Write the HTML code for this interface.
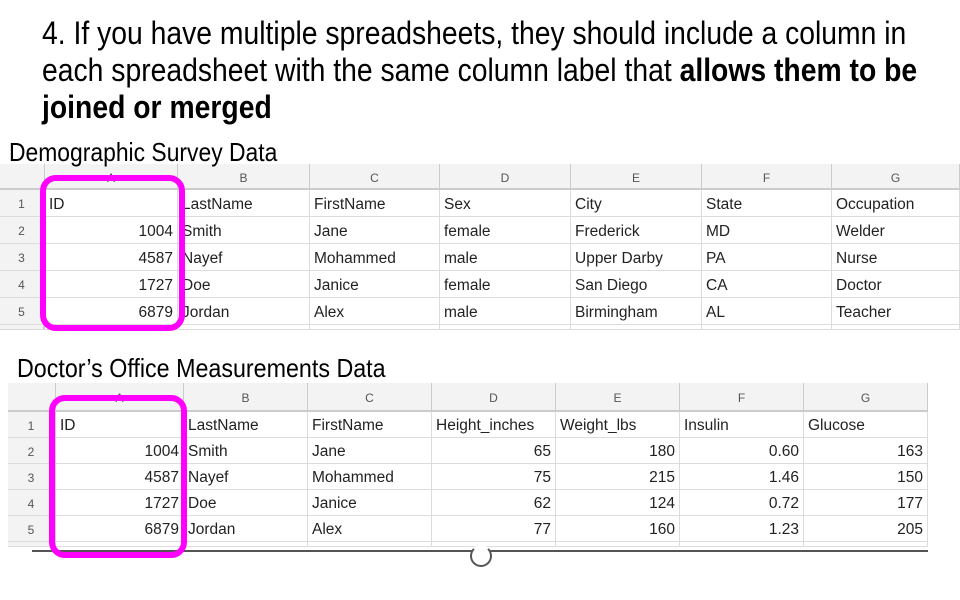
<!DOCTYPE html>
<html><head><meta charset="utf-8"><style>
body{margin:0;width:960px;height:600px;background:#fff;position:relative;overflow:hidden;font-family:"Liberation Sans",Arial,sans-serif}
.t{position:absolute;font-family:"Liberation Sans Narrow","Liberation Sans",sans-serif;color:#000;transform-origin:0 0;white-space:nowrap;z-index:5}
.cell{position:absolute;box-sizing:border-box;font-size:15.5px;color:#222;white-space:nowrap;overflow:hidden;padding:0 4px;border-right:1px solid #dcdcdc;border-bottom:1px solid #dcdcdc;background:#fff}
.hd{background:#f3f3f3;color:#555;font-size:12px;text-align:center;border-right:1px solid #ccc;border-bottom:2px solid #ccc}
.rn{background:#f3f3f3;color:#555;font-size:12px;text-align:center;border-right:2px solid #ccc}
.box{position:absolute;border:6px solid #ff00ff;border-radius:16px;box-sizing:border-box;z-index:6}
</style></head><body>
<div class="t" style="left:42px;top:15px;font-size:32px;line-height:37px;transform:scaleX(0.885)">4. If you have multiple spreadsheets, they should include a column in<br>each spreadsheet with the same column label that <b>allows them to be</b><br><b>joined or merged</b></div>
<div class="t" style="left:9px;top:137px;font-size:26px;transform:scaleX(0.88)">Demographic Survey Data</div>
<div class="t" style="left:17px;top:353px;font-size:26px;transform:scaleX(0.895)">Doctor’s Office Measurements Data</div>
<div id="t1"></div>
<div id="t2"></div>
<div style="position:absolute;left:32px;top:550px;width:896px;height:2px;background:#555"></div>
<div style="position:absolute;left:470px;top:545px;width:18px;height:18px;border:2px solid #555;border-top-color:transparent;border-radius:50%;background:#fff"></div>
<div class="box" style="left:40px;top:175px;width:145px;height:156px"></div>
<div class="box" style="left:49px;top:395px;width:138px;height:163px"></div>
<script>
const letters=["A","B","C","D","E","F","G"];
const rows1=[["ID","LastName","FirstName","Sex","City","State","Occupation"],
["1004","Smith","Jane","female","Frederick","MD","Welder"],
["4587","Nayef","Mohammed","male","Upper Darby","PA","Nurse"],
["1727","Doe","Janice","female","San Diego","CA","Doctor"],
["6879","Jordan","Alex","male","Birmingham","AL","Teacher"]];
const rows2=[["ID","LastName","FirstName","Height_inches","Weight_lbs","Insulin","Glucose"],
["1004","Smith","Jane","65","180","0.60","163"],
["4587","Nayef","Mohammed","75","215","1.46","150"],
["1727","Doe","Janice","62","124","0.72","177"],
["6879","Jordan","Alex","77","160","1.23","205"]];
function build(id,rows,x0,y0,cols,hh,rh,right){
  const host=document.getElementById(id);
  function mk(x,y,w,h,cls,txt,al){
    const d=document.createElement('div');
    d.className='cell '+cls;
    d.style.cssText=`left:${x}px;top:${y}px;width:${w}px;height:${h}px;line-height:${h+2}px;`+(al?`text-align:${al};`:'');
    d.textContent=txt;
    host.appendChild(d);return d;
  }
  let c=mk(x0,y0,cols[0]-x0,hh,'hd','');
  
  
  for(let j=0;j<7;j++){
    const h=mk(cols[j],y0,cols[j+1]-cols[j],hh,'hd',letters[j]);
    
    
  }
  for(let i=0;i<rows.length+1;i++){
    const y=y0+hh+i*rh;
    const hgt=i<rows.length?rh:5;
    const r=mk(x0,y,cols[0]-x0,hgt,'rn',i<rows.length?String(i+1):'');
    
    
    for(let j=0;j<7;j++){
      const v=i<rows.length?rows[i][j]:'';
      const num=i>0&&i<rows.length&&right(j);
      const d=mk(cols[j],y,cols[j+1]-cols[j],hgt,'',v,num?'right':'left');
      
      
    }
  }
}
build('t1',rows1,0,164,[45,178,310,440,571,702,832,960],26,27,j=>j==0);
build('t2',rows2,8,383,[56,184,308,432,556,680,804,928],29,26,j=>j==0||j>=3);
</script>
</body></html>
